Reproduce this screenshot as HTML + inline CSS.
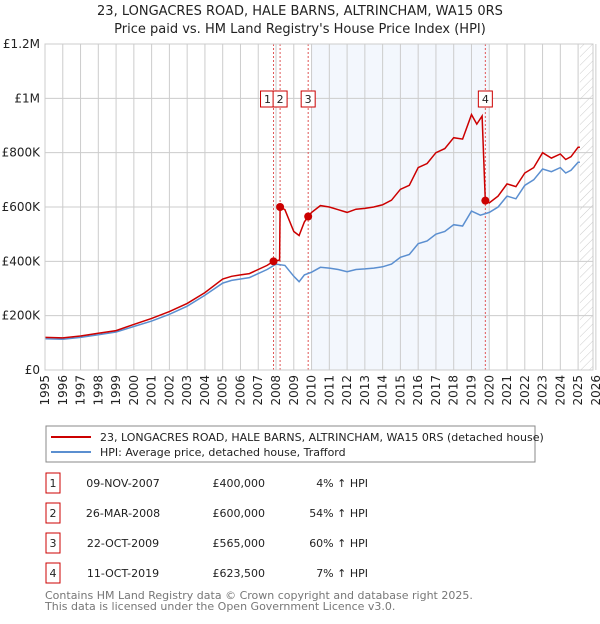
<!DOCTYPE html>
<html><head><meta charset="utf-8"><style>
body{margin:0;background:#fff;font-family:"DejaVu Sans","Liberation Sans",sans-serif;}
svg text{font-family:"DejaVu Sans","Liberation Sans",sans-serif;}
</style></head><body>
<svg id="chart" width="600" height="620" xmlns="http://www.w3.org/2000/svg">
<defs><pattern id="hatch" width="6" height="6" patternUnits="userSpaceOnUse" patternTransform="rotate(45)"><line x1="0" y1="0" x2="0" y2="6" stroke="#ccc" stroke-width="1"/></pattern></defs>
<text x="300" y="15" text-anchor="middle" font-size="13" fill="#222">23, LONGACRES ROAD, HALE BARNS, ALTRINCHAM, WA15 0RS</text>
<text x="300" y="33" text-anchor="middle" font-size="13" fill="#222">Price paid vs. HM Land Registry's House Price Index (HPI)</text>
<g id="plot"></g>
<g>
<rect x="46" y="426" width="489" height="36" fill="#fff" stroke="#888"/>
<line x1="51" y1="437" x2="91" y2="437" stroke="#cc0000" stroke-width="2"/>
<text x="100" y="441" font-size="11" fill="#222">23, LONGACRES ROAD, HALE BARNS, ALTRINCHAM, WA15 0RS (detached house)</text>
<line x1="51" y1="452" x2="91" y2="452" stroke="#5b8fd0" stroke-width="2"/>
<text x="100" y="456" font-size="11" fill="#222">HPI: Average price, detached house, Trafford</text>
</g>
<g id="table"></g>
<text x="45" y="599" font-size="11" fill="#777">Contains HM Land Registry data © Crown copyright and database right 2025.</text>
<text x="45" y="610" font-size="11" fill="#777">This data is licensed under the Open Government Licence v3.0.</text>
</svg>
<script>
const hpiYears=[1995,1996,1997,1998,1999,2000,2001,2002,2003,2004,2005,2005.5,2006,2006.5,2007,2007.5,2008,2008.5,2009,2009.3,2009.6,2010,2010.5,2011,2011.5,2012,2012.5,2013,2013.5,2014,2014.5,2015,2015.5,2016,2016.5,2017,2017.5,2018,2018.5,2019,2019.5,2020,2020.5,2021,2021.5,2022,2022.5,2023,2023.5,2024,2024.3,2024.6,2025,2025.1];
const hpiValues=[115,113,120,130,140,160,180,205,235,275,320,330,335,340,355,370,390,385,345,325,350,360,378,375,370,362,370,372,375,380,390,415,425,465,475,500,510,535,530,585,570,580,600,640,630,680,700,740,730,745,725,735,765,765];
const redYears=[1995,1996,1997,1998,1999,2000,2001,2002,2003,2004,2005,2005.5,2006,2006.5,2007,2007.5,2007.86,2008.2,2008.23,2008.5,2009,2009.3,2009.6,2009.81,2010,2010.5,2011,2011.5,2012,2012.5,2013,2013.5,2014,2014.5,2015,2015.5,2016,2016.5,2017,2017.5,2018,2018.5,2019,2019.3,2019.6,2019.78,2020,2020.5,2021,2021.5,2022,2022.5,2023,2023.5,2024,2024.3,2024.6,2025,2025.1];
const redValues=[120,118,125,135,145,168,190,215,245,285,335,345,350,355,370,385,400,405,600,590,510,495,545,565,580,605,600,590,580,592,595,600,608,625,665,680,745,760,800,815,855,850,940,905,935,623.5,615,640,685,675,725,745,800,780,795,775,785,820,820];
const saleLabels=['1','2','3','4'];
const saleYears=[2007.86,2008.23,2009.81,2019.78];
const saleValues=[400,600,565,623.5];
const saleDates=['09-NOV-2007','26-MAR-2008','22-OCT-2009','11-OCT-2019'];
const salePrices=['£400,000','£600,000','£565,000','£623,500'];
const saleHpi=['4% ↑ HPI','54% ↑ HPI','60% ↑ HPI','7% ↑ HPI'];
const yTicks=[0,200,400,600,800,1000,1200];
const yTickLabels=['£0','£200K','£400K','£600K','£800K','£1M','£1.2M'];
const xTicks=[1995,1996,1997,1998,1999,2000,2001,2002,2003,2004,2005,2006,2007,2008,2009,2010,2011,2012,2013,2014,2015,2016,2017,2018,2019,2020,2021,2022,2023,2024,2025,2026];

const NS='http://www.w3.org/2000/svg';
const L=45,R=593,T=44,B=370;
const X=y=>L+(y-1995)*17.77;
const Y=v=>B-v/1200*(B-T);
const g=document.getElementById('plot');
function mk(tag,attrs,parent){const e=document.createElementNS(NS,tag);for(const k in attrs)e.setAttribute(k,attrs[k]);(parent||g).appendChild(e);return e;}
let e;
e=mk('rect',{x:X(2010),y:T,width:X(2020)-X(2010),height:B-T,fill:'#eef3fc',opacity:0.7});


e=mk('rect',{x:X(2025.1),y:T,width:R-X(2025.1),height:B-T,fill:'url(#hatch)'});


xTicks.forEach(t=>{
 e=mk('line',{x1:X(t),y1:T,x2:X(t),y2:B,stroke:'#ccc'});
 
 
 e=mk('text',{x:0,y:0,'font-size':12,fill:'#222','text-anchor':'end',transform:`translate(${X(t)+4},${B+5}) rotate(-90)`});
 e.textContent=t;
 
 
});
yTicks.forEach((t,i)=>{
 e=mk('line',{x1:L,y1:Y(t),x2:R,y2:Y(t),stroke:'#ccc'});
 
 
 e=mk('text',{x:L-5,y:Y(t)+4,'font-size':12,fill:'#222','text-anchor':'end'});
 e.textContent=yTickLabels[i];
 
 
});
saleYears.forEach((y,i)=>{
 e=mk('line',{x1:X(y),y1:T,x2:X(y),y2:B,stroke:'#e05555','stroke-dasharray':'2,2'});
 
 
});
function path(xs,vs){return xs.map((x,i)=>(i?'L':'M')+X(x).toFixed(1)+','+Y(vs[i]).toFixed(1)).join('');}
e=mk('path',{d:path(hpiYears,hpiValues),fill:'none',stroke:'#5b8fd0','stroke-width':1.5});


e=mk('path',{d:path(redYears,redValues),fill:'none',stroke:'#cc0000','stroke-width':1.5});


saleYears.forEach((y,i)=>{
 e=mk('circle',{cx:X(y),cy:Y(saleValues[i]),r:4,fill:'#cc0000'});
 
 
 const off=i===0?-6:0;
 e=mk('rect',{x:X(y)-7+off,y:91,width:14,height:16,fill:'#fff',stroke:'#cc0000'});
 
 
 e=mk('text',{x:X(y)+off,y:103,'font-size':11,'text-anchor':'middle',fill:'#222'});
 e.textContent=saleLabels[i];
 
 
});
e=mk('rect',{x:L,y:T,width:R-L,height:B-T,fill:'none',stroke:'#ccc'});
const tb=document.getElementById('table');
saleLabels.forEach((s,i)=>{
 const cy=483+i*30;
 e=mk('rect',{x:46,y:cy-10,width:14,height:20,fill:'#fff',stroke:'#cc0000'},tb);
 
 
 e=mk('text',{x:53,y:cy+4,'font-size':11,'text-anchor':'middle',fill:'#222'},tb);e.textContent=s;
 
 
 e=mk('text',{x:123,y:cy+4,'font-size':11,'text-anchor':'middle',fill:'#222'},tb);e.textContent=saleDates[i];
 
 
 e=mk('text',{x:265,y:cy+4,'font-size':11,'text-anchor':'end',fill:'#222'},tb);e.textContent=salePrices[i];
 
 
 e=mk('text',{x:368,y:cy+4,'font-size':11,'text-anchor':'end',fill:'#222'},tb);e.textContent=saleHpi[i];
 
 
});
</script>
</body></html>
